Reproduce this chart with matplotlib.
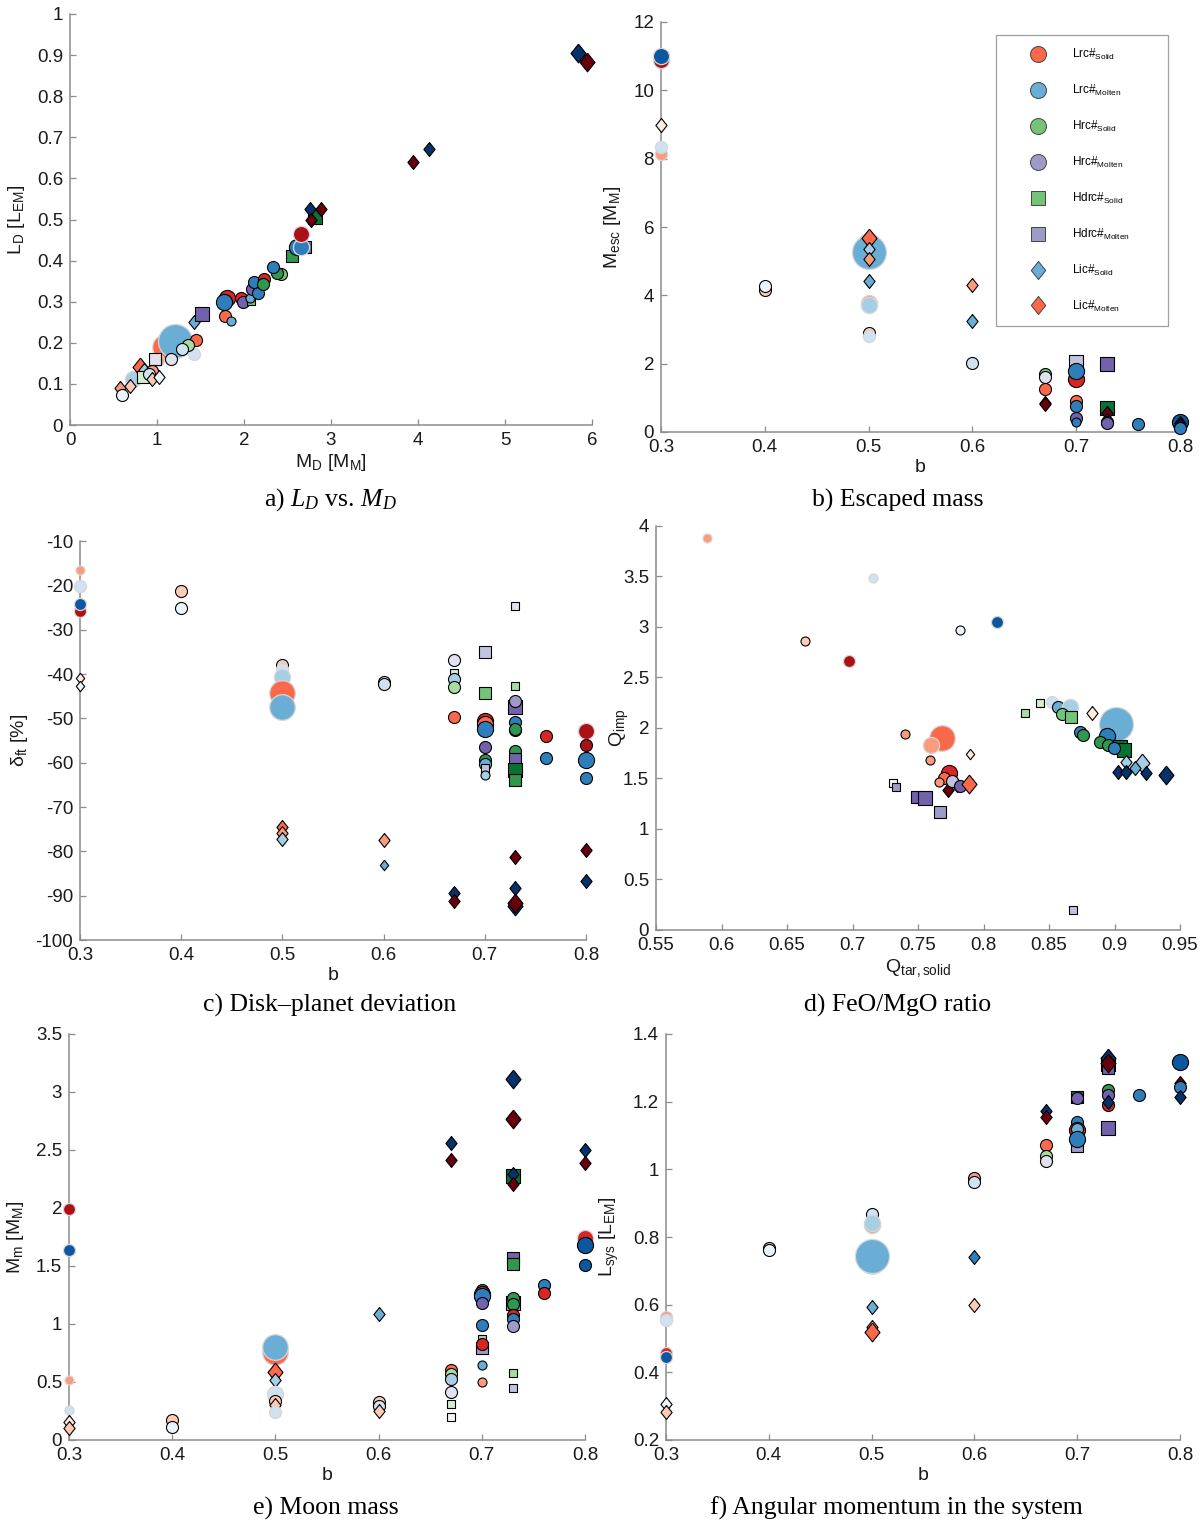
import matplotlib
matplotlib.use('Agg')
import matplotlib.pyplot as plt
from matplotlib.lines import Line2D
from matplotlib.ticker import FormatStrFormatter
import numpy as np

plt.rcParams['font.family'] = ['Liberation Sans', 'DejaVu Sans']
plt.rcParams['mathtext.fontset'] = 'custom'
plt.rcParams['mathtext.default'] = 'regular'
plt.rcParams['mathtext.it'] = 'Liberation Serif:italic'
plt.rcParams['mathtext.rm'] = 'Liberation Serif'

# each row: x, y, run type, shade level (0 pale .. 5 dark), marker size class, outlined (1) or not (0)
panel_a = [  # M_D [M_M], L_D [L_EM]
    (1.09, 0.189, 'Lrc_S', 3, 4, 0), (1.21, 0.205, 'Lrc_M', 3, 5, 0),
    (1.01, 0.159, 'Lrc_S', 2, 2, 0), (0.98, 0.160, 'Hdrc_M', 1, 2, 1),
    (1.42, 0.172, 'Lrc_M', 1, 2, 0), (0.72, 0.113, 'Lrc_M', 2, 3, 0),
    (1.45, 0.207, 'Lrc_S', 3, 2, 1), (1.36, 0.195, 'Hrc_S', 2, 2, 1),
    (1.29, 0.185, 'Lrc_M', 1, 2, 1), (1.16, 0.160, 'Hrc_M', 1, 2, 1),
    (0.80, 0.140, 'Lic_M', 3, 3, 1), (0.85, 0.135, 'Lic_S', 2, 2, 1),
    (0.84, 0.118, 'Hdrc_S', 1, 2, 1), (0.94, 0.131, 'Lrc_S', 2, 2, 1),
    (0.91, 0.124, 'Lrc_M', 1, 2, 1), (0.94, 0.113, 'Lic_M', 1, 2, 1),
    (1.02, 0.117, 'Lic_S', 0, 2, 1), (0.57, 0.091, 'Lic_M', 2, 2, 1),
    (0.69, 0.096, 'Lic_M', 1, 2, 1), (0.60, 0.073, 'Lrc_M', 0, 2, 1),
    (1.42, 0.251, 'Lic_S', 3, 2, 1), (1.52, 0.271, 'Hdrc_M', 4, 3, 1),
    (1.78, 0.264, 'Lrc_S', 3, 2, 1), (1.85, 0.253, 'Lrc_M', 3, 1, 1),
    (1.81, 0.308, 'Lrc_S', 4, 3, 1), (1.77, 0.300, 'Lrc_M', 4, 3, 1),
    (1.97, 0.310, 'Lrc_S', 4, 2, 1), (1.99, 0.300, 'Hrc_M', 4, 2, 1),
    (2.08, 0.302, 'Hdrc_S', 3, 1, 1), (2.07, 0.310, 'Lrc_M', 3, 1, 1),
    (2.09, 0.330, 'Hrc_M', 4, 2, 1), (2.16, 0.322, 'Lrc_M', 4, 2, 1),
    (2.11, 0.348, 'Lrc_M', 4, 2, 1), (2.23, 0.355, 'Lrc_S', 4, 2, 1),
    (2.22, 0.344, 'Hrc_S', 4, 2, 1), (2.42, 0.367, 'Hrc_S', 3, 2, 1),
    (2.38, 0.371, 'Hrc_S', 4, 2, 1), (2.33, 0.385, 'Lrc_M', 4, 2, 1),
    (2.55, 0.411, 'Hdrc_S', 4, 2, 1), (2.70, 0.432, 'Hdrc_M', 4, 2, 1),
    (2.61, 0.432, 'Lrc_M', 4, 3, 1), (2.66, 0.432, 'Lrc_M', 4, 3, 0),
    (2.66, 0.464, 'Lrc_S', 5, 3, 0), (2.82, 0.505, 'Hdrc_S', 5, 3, 1),
    (2.76, 0.525, 'Lic_S', 5, 2, 1), (2.89, 0.526, 'Lic_M', 5, 2, 1),
    (2.77, 0.498, 'Lic_M', 5, 2, 1), (3.94, 0.640, 'Lic_M', 5, 2, 1),
    (4.13, 0.672, 'Lic_S', 5, 2, 1), (5.84, 0.905, 'Lic_S', 5, 3, 1),
    (5.94, 0.883, 'Lic_M', 5, 3, 1),
]

panel_b = [  # b, M_esc [M_M]
    (0.3, 10.9, 'Lrc_S', 5, 3, 0), (0.3, 11.0, 'Lrc_M', 5, 3, 0),
    (0.3, 9.0, 'Lic_M', 0, 2, 1), (0.3, 8.15, 'Lrc_S', 2, 2, 0),
    (0.3, 8.33, 'Lrc_M', 1, 2, 0), (0.4, 4.15, 'Lrc_S', 1, 2, 1),
    (0.4, 4.27, 'Lrc_M', 0, 2, 1), (0.5, 5.45, 'Lrc_S', 3, 4, 0),
    (0.5, 5.28, 'Lrc_M', 3, 5, 0), (0.5, 5.67, 'Lic_M', 3, 3, 1),
    (0.5, 5.35, 'Lic_S', 2, 2, 1), (0.5, 5.06, 'Lic_M', 2, 2, 1),
    (0.5, 4.43, 'Lic_S', 3, 2, 1), (0.5, 3.78, 'Lrc_S', 2, 3, 0),
    (0.5, 3.72, 'Lrc_M', 2, 3, 0), (0.5, 2.91, 'Lrc_S', 1, 2, 1),
    (0.5, 2.81, 'Lrc_M', 1, 2, 0), (0.6, 4.30, 'Lic_M', 2, 2, 1),
    (0.6, 3.25, 'Lic_S', 3, 2, 1), (0.6, 2.03, 'Lrc_M', 1, 2, 1),
    (0.67, 1.70, 'Hrc_S', 3, 2, 1), (0.67, 1.62, 'Hrc_M', 1, 2, 1),
    (0.67, 1.26, 'Lrc_S', 3, 2, 1), (0.67, 0.85, 'Lic_S', 5, 2, 1),
    (0.67, 0.82, 'Lic_M', 5, 2, 1), (0.7, 2.05, 'Hdrc_M', 2, 3, 1),
    (0.7, 1.55, 'Lrc_S', 4, 3, 1), (0.7, 1.79, 'Lrc_M', 4, 3, 1),
    (0.7, 0.92, 'Lrc_S', 3, 2, 1), (0.7, 0.76, 'Lrc_M', 4, 2, 1),
    (0.7, 0.40, 'Hrc_M', 4, 2, 1), (0.7, 0.30, 'Lrc_M', 4, 1, 1),
    (0.73, 1.99, 'Hdrc_M', 4, 3, 1), (0.73, 0.70, 'Hdrc_S', 5, 3, 1),
    (0.73, 0.55, 'Lic_M', 5, 2, 1), (0.73, 0.35, 'Lic_S', 5, 2, 1),
    (0.73, 0.30, 'Hrc_S', 4, 2, 1), (0.73, 0.27, 'Hrc_M', 4, 2, 1),
    (0.76, 0.23, 'Lrc_M', 4, 2, 1), (0.8, 0.30, 'Lrc_M', 5, 3, 1),
    (0.8, 0.26, 'Lic_S', 5, 2, 1), (0.8, 0.20, 'Lic_M', 5, 2, 1),
    (0.8, 0.12, 'Lrc_M', 4, 2, 1),
]

panel_c = [  # b, delta_ft [%]
    (0.3, -16.5, 'Lrc_S', 2, 1, 0), (0.3, -20.1, 'Lrc_M', 1, 2, 0),
    (0.3, -25.7, 'Lrc_S', 5, 2, 0), (0.3, -24.1, 'Lrc_M', 5, 2, 0),
    (0.3, -40.8, 'Lic_M', 0, 1, 1), (0.3, -42.6, 'Lic_S', 0, 1, 1),
    (0.4, -21.3, 'Lrc_S', 1, 2, 1), (0.4, -25.2, 'Lrc_M', 0, 2, 1),
    (0.5, -38.0, 'Lrc_S', 1, 2, 1), (0.5, -38.9, 'Lrc_M', 1, 2, 0),
    (0.5, -40.7, 'Lrc_M', 2, 3, 0), (0.5, -44.2, 'Lrc_S', 3, 4, 0),
    (0.5, -47.4, 'Lrc_M', 3, 4, 0), (0.5, -74.6, 'Lic_M', 3, 2, 1),
    (0.5, -75.8, 'Lic_M', 2, 2, 1), (0.5, -77.3, 'Lic_S', 2, 2, 1),
    (0.6, -41.8, 'Lrc_S', 1, 2, 1), (0.6, -42.3, 'Lrc_M', 1, 2, 1),
    (0.6, -77.4, 'Lic_M', 2, 2, 1), (0.6, -83.1, 'Lic_S', 3, 1, 1),
    (0.67, -36.8, 'Hrc_M', 1, 2, 1), (0.67, -39.7, 'Hdrc_S', 1, 1, 1),
    (0.67, -41.1, 'Lrc_M', 2, 2, 1), (0.67, -43.0, 'Hrc_S', 2, 2, 1),
    (0.67, -49.6, 'Lrc_S', 3, 2, 1), (0.67, -89.5, 'Lic_S', 5, 2, 1),
    (0.67, -91.1, 'Lic_M', 5, 2, 1), (0.7, -35.0, 'Hdrc_M', 2, 2, 1),
    (0.7, -44.2, 'Hdrc_S', 3, 2, 1), (0.7, -50.6, 'Lrc_S', 4, 3, 1),
    (0.7, -51.3, 'Lrc_S', 3, 3, 1), (0.7, -52.5, 'Lrc_M', 4, 3, 1),
    (0.7, -56.5, 'Hrc_M', 4, 2, 1), (0.7, -59.4, 'Hrc_S', 4, 2, 1),
    (0.7, -60.4, 'Lrc_M', 3, 2, 1), (0.7, -61.3, 'Hdrc_M', 2, 1, 1),
    (0.7, -62.8, 'Lrc_M', 2, 1, 1), (0.73, -24.6, 'Hdrc_M', 1, 1, 1),
    (0.73, -42.7, 'Hdrc_S', 2, 1, 1), (0.73, -47.4, 'Hdrc_M', 4, 3, 1),
    (0.73, -46.2, 'Hrc_M', 3, 2, 1), (0.73, -50.8, 'Lrc_M', 4, 2, 1),
    (0.73, -52.6, 'Lrc_S', 5, 2, 1), (0.73, -52.4, 'Hrc_S', 4, 2, 1),
    (0.73, -57.3, 'Hrc_S', 4, 2, 1), (0.73, -59.2, 'Hdrc_M', 4, 2, 1),
    (0.73, -61.7, 'Hdrc_S', 5, 3, 1), (0.73, -63.9, 'Hdrc_S', 4, 2, 1),
    (0.73, -81.2, 'Lic_M', 5, 2, 1), (0.73, -88.3, 'Lic_S', 5, 2, 1),
    (0.73, -92.4, 'Lic_S', 5, 3, 1), (0.73, -91.7, 'Lic_M', 5, 3, 1),
    (0.76, -53.9, 'Lrc_S', 4, 2, 1), (0.76, -59.0, 'Lrc_M', 4, 2, 1),
    (0.8, -52.8, 'Lrc_S', 5, 3, 0), (0.8, -56.0, 'Lrc_S', 5, 2, 1),
    (0.8, -59.4, 'Lrc_M', 4, 3, 1), (0.8, -63.5, 'Lrc_M', 4, 2, 1),
    (0.8, -79.7, 'Lic_M', 5, 2, 1), (0.8, -86.8, 'Lic_S', 5, 2, 1),
]

panel_d = [  # Q_tar,solid, Q_imp
    (0.589, 3.88, 'Lrc_S', 2, 1, 0), (0.716, 3.49, 'Lrc_M', 1, 1, 0),
    (0.664, 2.86, 'Lrc_S', 1, 1, 1), (0.697, 2.66, 'Lrc_S', 5, 2, 0),
    (0.782, 2.97, 'Lrc_M', 0, 1, 1), (0.810, 3.05, 'Lrc_M', 5, 2, 0),
    (0.768, 1.90, 'Lrc_S', 3, 4, 0), (0.760, 1.83, 'Lrc_S', 2, 3, 0),
    (0.740, 1.94, 'Lrc_S', 2, 1, 1), (0.759, 1.68, 'Lrc_S', 2, 1, 1),
    (0.790, 1.74, 'Lic_M', 0, 1, 1), (0.731, 1.46, 'Hdrc_M', 0, 1, 1),
    (0.733, 1.42, 'Hdrc_M', 3, 1, 1), (0.749, 1.32, 'Hdrc_M', 4, 2, 1),
    (0.755, 1.31, 'Hdrc_M', 4, 3, 1), (0.767, 1.17, 'Hdrc_M', 3, 2, 1),
    (0.868, 0.20, 'Hdrc_M', 2, 1, 1), (0.774, 1.55, 'Lrc_S', 4, 3, 1),
    (0.770, 1.50, 'Lrc_S', 3, 2, 1), (0.773, 1.39, 'Lic_M', 5, 2, 1),
    (0.780, 1.44, 'Lic_M', 5, 2, 1), (0.766, 1.47, 'Lrc_S', 2, 1, 1),
    (0.776, 1.48, 'Hrc_M', 2, 2, 1), (0.782, 1.43, 'Hrc_M', 4, 2, 1),
    (0.789, 1.45, 'Lic_M', 3, 3, 1), (0.832, 2.15, 'Hdrc_S', 2, 1, 1),
    (0.843, 2.25, 'Hdrc_S', 1, 1, 1), (0.852, 2.26, 'Lrc_M', 1, 2, 0),
    (0.857, 2.21, 'Lrc_M', 3, 2, 1), (0.866, 2.21, 'Lrc_M', 2, 3, 0),
    (0.860, 2.14, 'Hrc_S', 3, 2, 1), (0.867, 2.11, 'Hdrc_S', 3, 2, 1),
    (0.883, 2.15, 'Lic_M', 0, 2, 1), (0.901, 2.04, 'Lrc_M', 3, 5, 0),
    (0.874, 1.96, 'Lrc_M', 4, 2, 1), (0.876, 1.93, 'Hrc_S', 4, 2, 1),
    (0.894, 1.92, 'Lrc_M', 4, 3, 1), (0.889, 1.86, 'Hrc_S', 4, 2, 1),
    (0.895, 1.83, 'Hrc_S', 4, 2, 1), (0.904, 1.81, 'Hdrc_S', 5, 3, 1),
    (0.907, 1.78, 'Hdrc_S', 5, 3, 1), (0.900, 1.80, 'Lrc_M', 4, 2, 1),
    (0.909, 1.66, 'Lic_S', 2, 2, 1), (0.903, 1.56, 'Lic_S', 5, 2, 1),
    (0.909, 1.56, 'Lic_S', 5, 2, 1), (0.921, 1.65, 'Lic_S', 2, 3, 1),
    (0.916, 1.60, 'Lic_S', 3, 2, 1), (0.924, 1.55, 'Lic_S', 5, 2, 1),
    (0.939, 1.53, 'Lic_S', 5, 3, 1),
]

panel_e = [  # b, M_m [M_M]
    (0.3, 1.99, 'Lrc_S', 5, 2, 0), (0.3, 1.64, 'Lrc_M', 5, 2, 0),
    (0.3, 0.52, 'Lrc_S', 2, 1, 0), (0.3, 0.26, 'Lrc_M', 1, 1, 0),
    (0.3, 0.155, 'Lic_M', 0, 2, 1), (0.3, 0.10, 'Lic_M', 1, 2, 1),
    (0.4, 0.17, 'Lrc_S', 1, 2, 1), (0.4, 0.11, 'Lrc_M', 0, 2, 1),
    (0.5, 0.76, 'Lrc_S', 3, 4, 0), (0.5, 0.80, 'Lrc_M', 3, 4, 0),
    (0.5, 0.59, 'Lic_M', 3, 3, 1), (0.5, 0.52, 'Lic_S', 2, 2, 1),
    (0.5, 0.40, 'Lrc_M', 1, 3, 0), (0.5, 0.34, 'Lrc_S', 1, 2, 1),
    (0.5, 0.30, 'Lic_M', 1, 2, 1), (0.5, 0.24, 'Lrc_M', 1, 2, 0),
    (0.6, 1.09, 'Lic_S', 3, 2, 1), (0.6, 0.33, 'Lrc_S', 1, 2, 1),
    (0.6, 0.29, 'Lrc_M', 1, 2, 1), (0.6, 0.25, 'Lic_M', 1, 2, 1),
    (0.67, 2.56, 'Lic_S', 5, 2, 1), (0.67, 2.41, 'Lic_M', 5, 2, 1),
    (0.67, 0.60, 'Lrc_S', 3, 2, 1), (0.67, 0.57, 'Hrc_S', 2, 2, 1),
    (0.67, 0.53, 'Lrc_M', 2, 2, 1), (0.67, 0.41, 'Hrc_M', 1, 2, 1),
    (0.67, 0.31, 'Hdrc_S', 1, 1, 1), (0.67, 0.20, 'Hdrc_M', 0, 1, 1),
    (0.7, 1.29, 'Hrc_S', 4, 2, 1), (0.7, 1.26, 'Lrc_S', 4, 3, 1),
    (0.7, 1.24, 'Lrc_M', 4, 3, 1), (0.7, 1.18, 'Hrc_M', 4, 2, 1),
    (0.7, 0.99, 'Lrc_M', 4, 2, 1), (0.7, 0.87, 'Hdrc_S', 2, 1, 1),
    (0.7, 0.79, 'Hdrc_M', 3, 2, 1), (0.7, 0.83, 'Lrc_S', 4, 2, 1),
    (0.7, 0.65, 'Lrc_M', 3, 1, 1), (0.7, 0.50, 'Lrc_S', 2, 1, 1),
    (0.73, 3.11, 'Lic_S', 5, 3, 1), (0.73, 2.77, 'Lic_M', 5, 3, 1),
    (0.73, 2.28, 'Hdrc_S', 5, 3, 1), (0.73, 2.29, 'Lic_S', 5, 2, 1),
    (0.73, 2.21, 'Lic_M', 5, 2, 1), (0.73, 1.57, 'Hdrc_M', 4, 2, 1),
    (0.73, 1.52, 'Hdrc_S', 4, 2, 1), (0.73, 1.18, 'Hdrc_M', 3, 3, 1),
    (0.73, 1.22, 'Hrc_S', 4, 2, 1), (0.73, 1.17, 'Hrc_S', 4, 2, 1),
    (0.73, 1.08, 'Lrc_S', 4, 2, 1), (0.73, 1.04, 'Lrc_M', 4, 2, 1),
    (0.73, 0.98, 'Hrc_M', 3, 2, 1), (0.73, 0.58, 'Hdrc_S', 2, 1, 1),
    (0.73, 0.45, 'Hdrc_M', 2, 1, 1), (0.76, 1.34, 'Lrc_M', 4, 2, 1),
    (0.76, 1.27, 'Lrc_S', 4, 2, 1), (0.8, 2.50, 'Lic_S', 5, 2, 1),
    (0.8, 2.39, 'Lic_M', 5, 2, 1), (0.8, 1.74, 'Lrc_S', 4, 3, 0),
    (0.8, 1.68, 'Lrc_M', 5, 3, 1), (0.8, 1.51, 'Lrc_M', 5, 2, 1),
]

panel_f = [  # b, L_sys [L_EM]
    (0.3, 0.564, 'Lrc_S', 2, 2, 0), (0.3, 0.554, 'Lrc_M', 1, 2, 0),
    (0.3, 0.456, 'Lrc_S', 4, 2, 0), (0.3, 0.445, 'Lrc_M', 5, 2, 0),
    (0.3, 0.306, 'Lic_S', 0, 2, 1), (0.3, 0.284, 'Lic_M', 1, 2, 1),
    (0.4, 0.767, 'Lrc_S', 1, 2, 1), (0.4, 0.762, 'Lrc_M', 0, 2, 1),
    (0.5, 0.868, 'Lrc_M', 1, 2, 1), (0.5, 0.835, 'Lrc_S', 2, 3, 0),
    (0.5, 0.840, 'Lrc_M', 2, 3, 0), (0.5, 0.730, 'Lrc_S', 3, 4, 0),
    (0.5, 0.744, 'Lrc_M', 3, 5, 0), (0.5, 0.594, 'Lic_S', 3, 2, 1),
    (0.5, 0.535, 'Lic_M', 2, 2, 1), (0.5, 0.520, 'Lic_M', 3, 3, 1),
    (0.6, 0.974, 'Lrc_S', 2, 2, 1), (0.6, 0.962, 'Lrc_M', 1, 2, 1),
    (0.6, 0.740, 'Lic_S', 4, 2, 1), (0.6, 0.600, 'Lic_M', 1, 2, 1),
    (0.67, 1.173, 'Lic_S', 5, 2, 1), (0.67, 1.156, 'Lic_M', 5, 2, 1),
    (0.67, 1.072, 'Lrc_S', 3, 2, 1), (0.67, 1.040, 'Hrc_S', 2, 2, 1),
    (0.67, 1.025, 'Hrc_M', 1, 2, 1), (0.7, 1.215, 'Hdrc_S', 5, 2, 1),
    (0.7, 1.210, 'Hrc_M', 4, 2, 1), (0.7, 1.069, 'Hdrc_M', 3, 2, 1),
    (0.7, 1.141, 'Lrc_M', 4, 2, 1), (0.7, 1.116, 'Lrc_S', 4, 3, 1),
    (0.7, 1.120, 'Lrc_M', 3, 2, 1), (0.7, 1.090, 'Lrc_M', 4, 3, 1),
    (0.73, 1.310, 'Hdrc_S', 5, 3, 1), (0.73, 1.300, 'Hdrc_M', 4, 2, 1),
    (0.73, 1.330, 'Lic_S', 5, 3, 1), (0.73, 1.315, 'Lic_M', 5, 3, 1),
    (0.73, 1.235, 'Hrc_S', 4, 2, 1), (0.73, 1.220, 'Hrc_M', 4, 2, 1),
    (0.73, 1.190, 'Lrc_S', 4, 2, 1), (0.73, 1.200, 'Lic_S', 5, 2, 1),
    (0.73, 1.121, 'Hdrc_M', 4, 3, 1), (0.76, 1.220, 'Lrc_M', 4, 2, 1),
    (0.8, 1.316, 'Lrc_M', 5, 3, 1), (0.8, 1.256, 'Lic_M', 5, 2, 1),
    (0.8, 1.244, 'Lrc_M', 4, 2, 1), (0.8, 1.213, 'Lic_S', 5, 2, 1),
]

legend_kinds = ['Lrc_S', 'Lrc_M', 'Hrc_S', 'Hrc_M', 'Hdrc_S', 'Hdrc_M', 'Lic_S', 'Lic_M']
legend_labels = ['Lrc#$_{Solid}$', 'Lrc#$_{Molten}$', 'Hrc#$_{Solid}$', 'Hrc#$_{Molten}$',
                 'Hdrc#$_{Solid}$', 'Hdrc#$_{Molten}$', 'Lic#$_{Solid}$', 'Lic#$_{Molten}$']

# styling
diamond = [(0, 1), (0.8, 0), (0, -1), (-0.8, 0), (0, 1)]
KINDS = {
    'Lrc_S': ('o', 'Reds'), 'Lrc_M': ('o', 'Blues'),
    'Hrc_S': ('o', 'Greens'), 'Hrc_M': ('o', 'Purples'),
    'Hdrc_S': ('s', 'Greens'), 'Hdrc_M': ('s', 'Purples'),
    'Lic_S': (diamond, 'Blues'), 'Lic_M': (diamond, 'Reds'),
}
SHADE = [0.06, 0.2, 0.35, 0.5, 0.7, 0.85]
AREA = {1: 42, 2: 75, 3: 135, 4: 340, 5: 600}
AXC = '#8c8c8c'


def colour(kind, lev):
    pos = SHADE[lev]
    if kind.startswith('Lic') and lev == 5:
        pos = 1.0  # impact-angle runs use the darkest end of the map
    return plt.get_cmap(KINDS[kind][1])(pos)


def draw(ax, rows):
    for x, y, kind, lev, sz, edge in rows:
        mk = KINDS[kind][0]
        s = AREA[sz]
        if mk == 's':
            s = s * 0.85
        elif mk is diamond:
            s = s * 1.35
        ax.scatter(x, y, s=s, marker=mk, color=colour(kind, lev),
                   edgecolors='black' if edge else '#d6d6d6',
                   linewidths=0.8 if edge else 0.9, zorder=3, clip_on=False)


def style(ax, xlim, ylim, xt, yt, xlab, ylab, ylab_x):
    ax.set_xlim(xlim)
    ax.set_ylim(ylim)
    ax.set_xticks(xt)
    ax.set_yticks(yt)
    ax.xaxis.set_major_formatter(FormatStrFormatter('%g'))
    ax.yaxis.set_major_formatter(FormatStrFormatter('%g'))
    for s in ['top', 'right']:
        ax.spines[s].set_visible(False)
    for s in ['left', 'bottom']:
        ax.spines[s].set_color(AXC)
        ax.spines[s].set_linewidth(1.1)
    ax.tick_params(direction='in', length=4, width=0.9, color=AXC,
                   labelsize=13.5, pad=5, labelcolor='#1a1a1a')
    ax.set_xlabel(xlab, fontsize=14, labelpad=2, color='#1a1a1a')
    ax.set_ylabel(ylab, fontsize=14, color='#1a1a1a')
    # place the y label at a fixed pixel column (right edge of rotated text)
    bb = ax.get_position()
    ax.yaxis.set_label_coords((ylab_x / W - bb.x0) / bb.width, 0.5)


W, H = 1200, 1530
fig = plt.figure(figsize=(W / 100, H / 100), dpi=100)


def box(l, r, t, b):
    return fig.add_axes([l / W, 1 - b / H, (r - l) / W, (b - t) / H])


ax_a = box(70, 592, 14, 425)
ax_b = box(661, 1180, 22, 432)
ax_c = box(80, 586, 541, 940)
ax_d = box(656, 1180, 526, 930)
ax_e = box(69, 585, 1034, 1440)
ax_f = box(666, 1180, 1034, 1440)

bx = np.arange(0.3, 0.81, 0.1)
style(ax_a, (0, 6), (0, 1), np.arange(0, 7), np.arange(0, 1.01, 0.1),
      'M$_D$ [M$_M$]', 'L$_D$ [L$_{EM}$]', 27)
style(ax_b, (0.3, 0.8), (0, 12), bx, np.arange(0, 13, 2),
      'b', 'M$_{esc}$ [M$_M$]', 623)
style(ax_c, (0.3, 0.8), (-100, -10), bx, np.arange(-100, -9, 10),
      'b', '$\\delta_{ft}$ [%]', 30)
style(ax_d, (0.55, 0.95), (0, 4), np.arange(0.55, 0.951, 0.05), np.arange(0, 4.01, 0.5),
      'Q$_{tar,solid}$', 'Q$_{imp}$', 631)
style(ax_e, (0.3, 0.8), (0, 3.5), bx, np.arange(0, 3.51, 0.5),
      'b', 'M$_m$ [M$_M$]', 26)
style(ax_f, (0.3, 0.8), (0.2, 1.4), bx, np.arange(0.2, 1.41, 0.2),
      'b', 'L$_{sys}$ [L$_{EM}$]', 621)

draw(ax_a, panel_a)
draw(ax_b, panel_b)
draw(ax_c, panel_c)
draw(ax_d, panel_d)
draw(ax_e, panel_e)
draw(ax_f, panel_f)

# legend (upper right of panel b), box stretched to a fixed width like the original
handles = []
for k in legend_kinds:
    mk = KINDS[k][0]
    ms = 11.5 if mk == 'o' else (9.5 if mk == 's' else 13)
    handles.append(Line2D([], [], linestyle='none', marker=mk, markersize=ms,
                          markerfacecolor=colour(k, 3), markeredgecolor='#444444',
                          markeredgewidth=0.7))
leg = fig.legend(handles, legend_labels, loc='upper left', mode='expand',
                 bbox_to_anchor=(996 / W, 1 - 326 / H, 172 / W, 291 / H), fontsize=8.5,
                 frameon=True, fancybox=False, edgecolor='#888888',
                 labelspacing=1.76, handlelength=5.0, handletextpad=0.4,
                 borderpad=1.05, borderaxespad=0)
leg.get_frame().set_linewidth(0.9)

# captions
cap = dict(fontsize=18.5, family='Liberation Serif', ha='center', va='center')
fig.text(330 / W, 1 - 500 / H, 'a) $\\mathit{L_D}$ vs. $\\mathit{M_D}$', **cap)
fig.text(898 / W, 1 - 500 / H, 'b) Escaped mass', **cap)
fig.text(330 / W, 1 - 1005 / H, 'c) Disk–planet deviation', **cap)
fig.text(898 / W, 1 - 1005 / H, 'd) FeO/MgO ratio', **cap)
fig.text(326 / W, 1 - 1508 / H, 'e) Moon mass', **cap)
fig.text(896 / W, 1 - 1508 / H, 'f) Angular momentum in the system', **cap)

fig.savefig('out.png', dpi=100)
